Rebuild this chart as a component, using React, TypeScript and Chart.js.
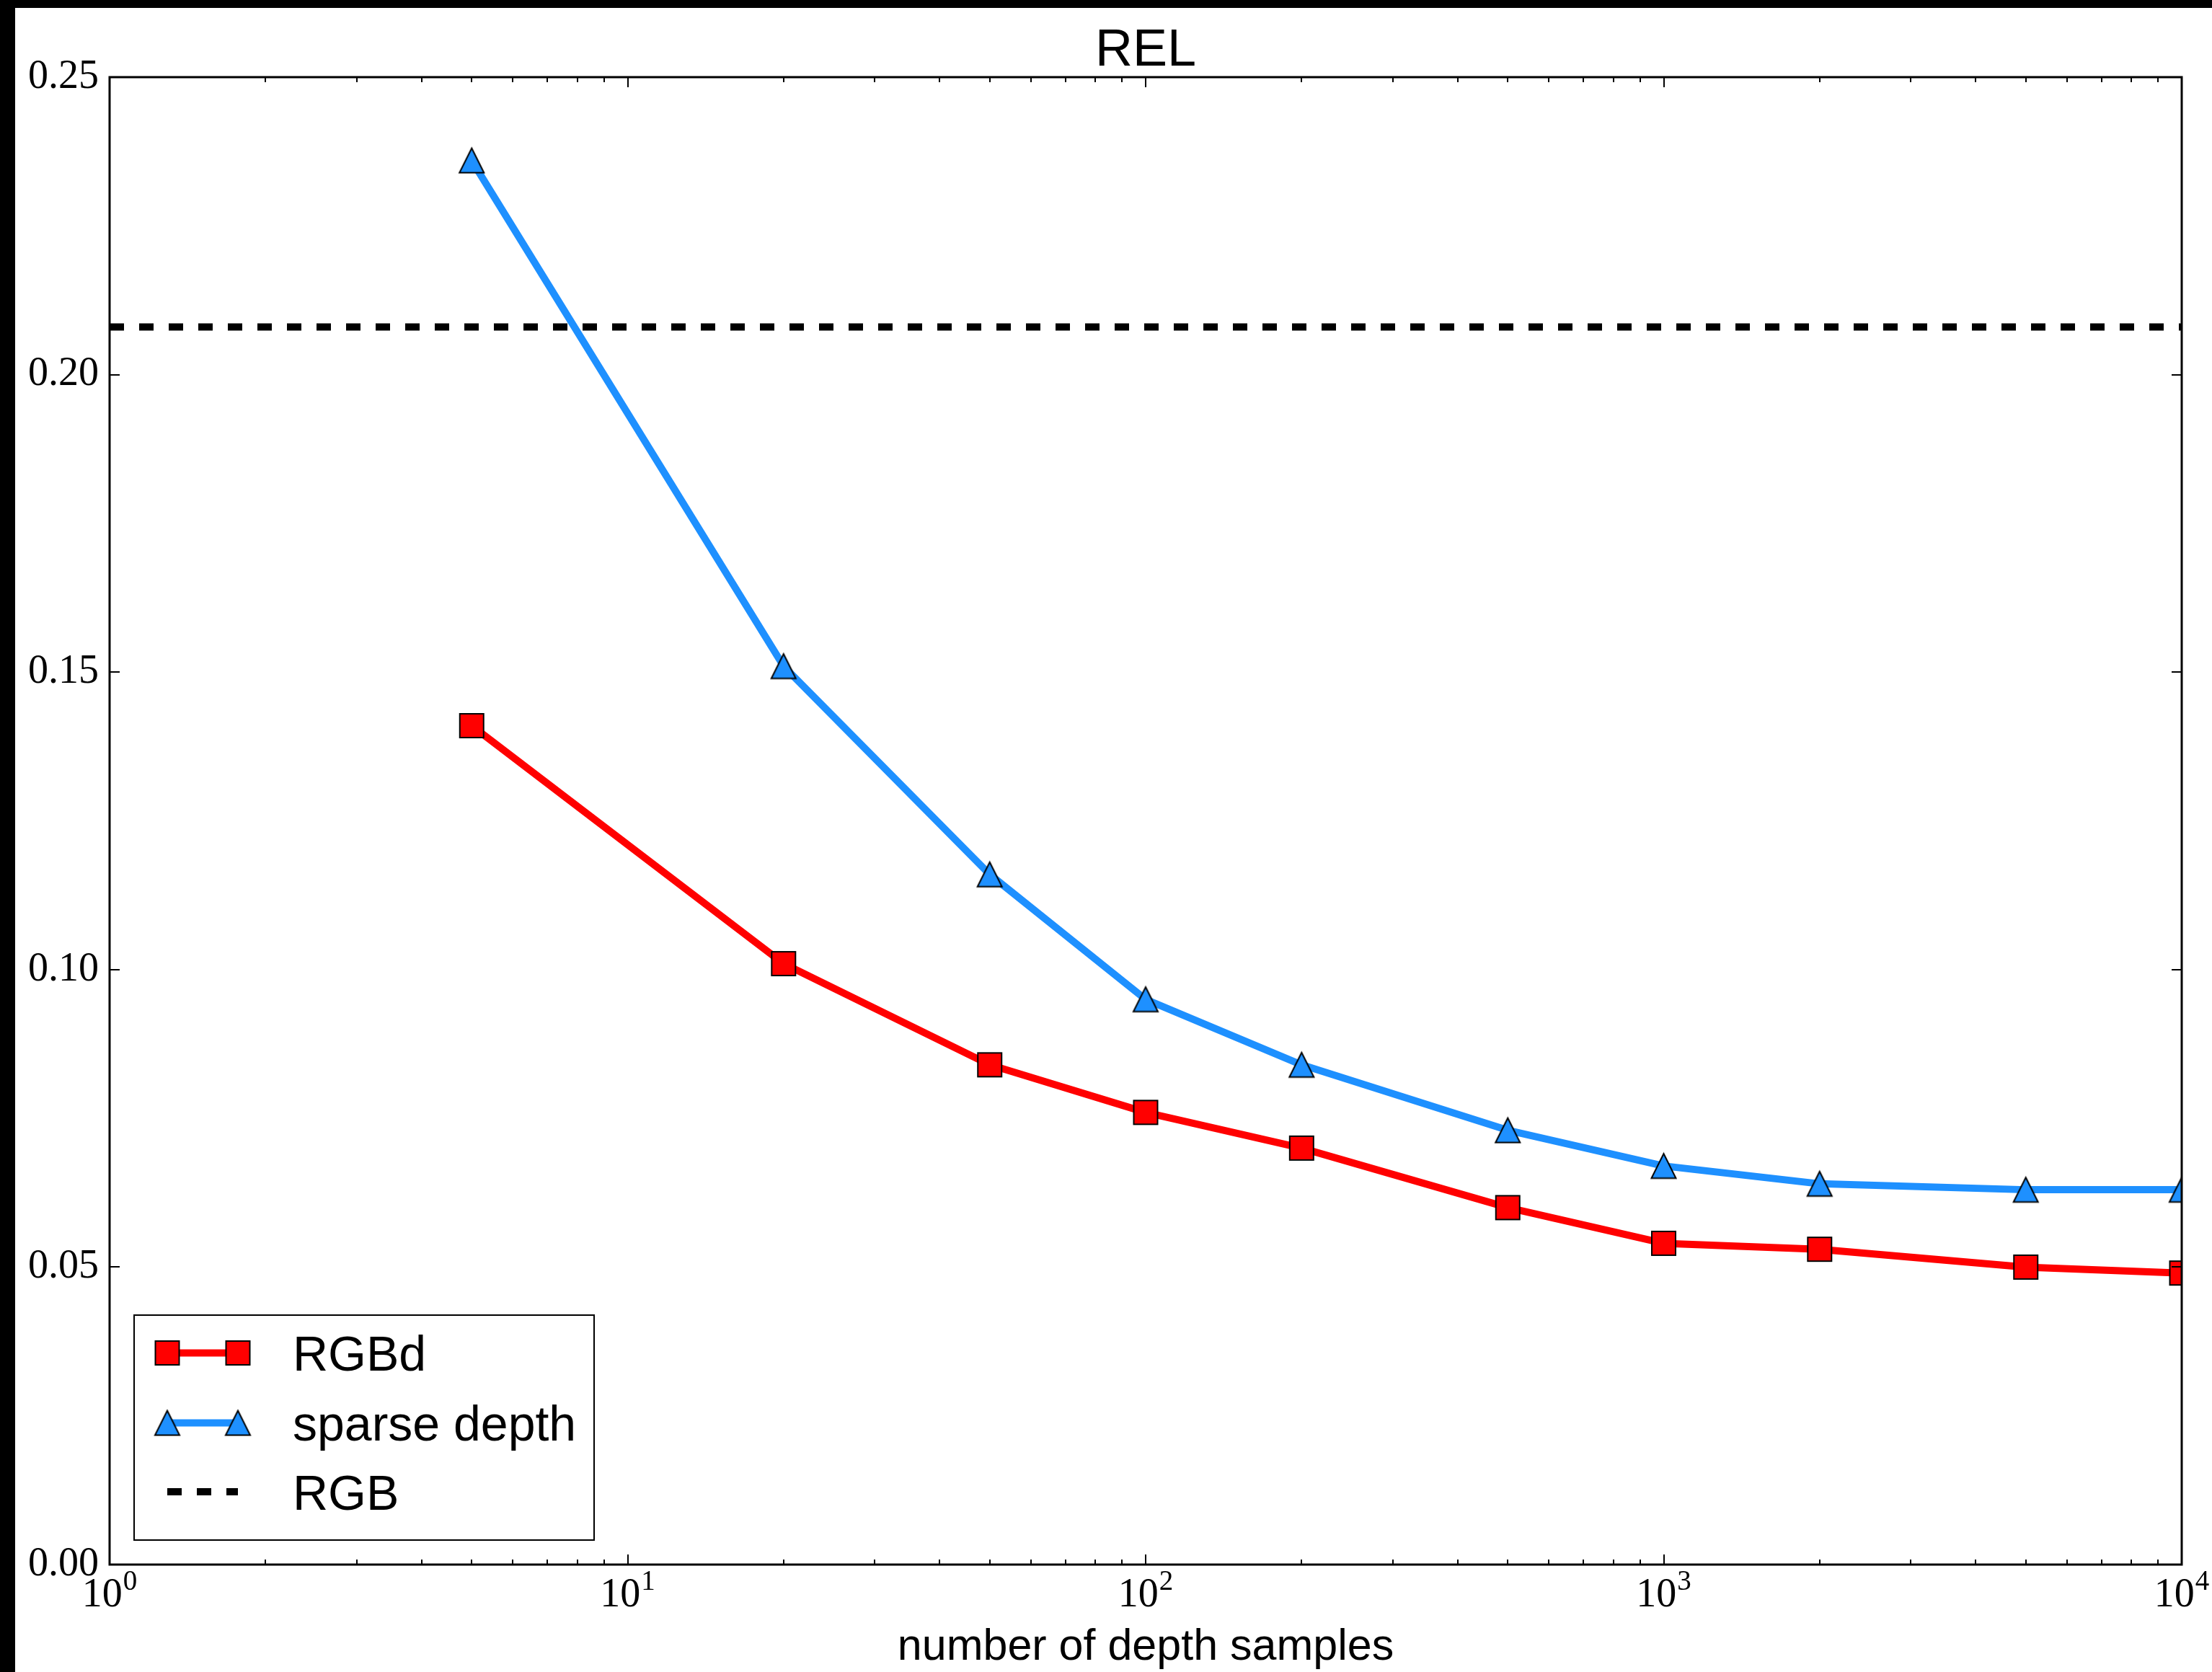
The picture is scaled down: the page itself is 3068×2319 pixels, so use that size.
import React, { useEffect, useRef } from 'react';
import { Chart, registerables } from 'chart.js';

Chart.register(...registerables);

// ---- data ----
const depthSamples = [5, 20, 50, 100, 200, 500, 1000, 2000, 5000, 10000];
const rgbdRel = [0.141, 0.101, 0.084, 0.076, 0.07, 0.06, 0.054, 0.053, 0.05, 0.049];
const sparseDepthRel = [0.236, 0.151, 0.116, 0.095, 0.084, 0.073, 0.067, 0.064, 0.063, 0.063];
const rgbRel = 0.208;
const rgbSpan = [1, 10000];
const seriesLabels = ['RGBd', 'sparse depth', 'RGB'];
const xMajorTicks = [1, 10, 100, 1000, 10000];
const yTickValues = [0, 0.05, 0.1, 0.15, 0.2, 0.25];
const chartTitle = 'REL';
const xAxisTitle = 'number of depth samples';

const RED = '#ff0000';
const BLUE = '#1e90ff';
const SANS = '"Liberation Sans", Arial, sans-serif';
const SERIF = '"Liberation Serif", "Times New Roman", serif';
const LINE_W = 10;

function makeSquare(color: string) {
  const c = document.createElement('canvas');
  c.width = 37;
  c.height = 37;
  const g = c.getContext('2d')!;
  g.fillStyle = color;
  g.fillRect(2, 2, 33, 33);
  g.strokeStyle = '#000';
  g.lineWidth = 2;
  g.strokeRect(2, 2, 33, 33);
  return c;
}

function makeTriangle(color: string) {
  const c = document.createElement('canvas');
  c.width = 41;
  c.height = 41;
  const g = c.getContext('2d')!;
  g.beginPath();
  g.moveTo(20.5, 3.5);
  g.lineTo(37.5, 37.5);
  g.lineTo(3.5, 37.5);
  g.closePath();
  g.fillStyle = color;
  g.fill();
  g.strokeStyle = '#000';
  g.lineWidth = 2;
  g.lineJoin = 'miter';
  g.stroke();
  return c;
}

const framePlugin = {
  id: 'framePlugin',
  afterDatasetsDraw(chart: any) {
    const { ctx, chartArea: a, scales } = chart;
    const xs = scales.x;
    const ys = scales.y;
    ctx.save();
    ctx.strokeStyle = '#000';
    ctx.lineWidth = 2;
    ctx.beginPath();
    for (const v of xMajorTicks) {
      const px = Math.round(xs.getPixelForValue(v));
      ctx.moveTo(px, a.bottom);
      ctx.lineTo(px, a.bottom - 14);
      ctx.moveTo(px, a.top);
      ctx.lineTo(px, a.top + 14);
    }
    for (let i = 0; i < xMajorTicks.length - 1; i++) {
      for (let m = 2; m <= 9; m++) {
        const px = Math.round(xs.getPixelForValue(xMajorTicks[i] * m));
        ctx.moveTo(px, a.bottom);
        ctx.lineTo(px, a.bottom - 7);
        ctx.moveTo(px, a.top);
        ctx.lineTo(px, a.top + 7);
      }
    }
    for (const v of yTickValues) {
      const py = Math.round(ys.getPixelForValue(v));
      ctx.moveTo(a.left, py);
      ctx.lineTo(a.left + 14, py);
      ctx.moveTo(a.right, py);
      ctx.lineTo(a.right - 14, py);
    }
    ctx.stroke();
    ctx.lineWidth = 3;
    ctx.strokeRect(a.left, a.top, a.right - a.left, a.bottom - a.top);
    ctx.restore();
  },
  afterDraw(chart: any) {
    const { ctx, chartArea: a, scales } = chart;
    const xs = scales.x;
    const cx = (a.left + a.right) / 2;
    ctx.save();
    ctx.fillStyle = '#000';
    ctx.font = `72px ${SANS}`;
    ctx.textAlign = 'center';
    ctx.textBaseline = 'alphabetic';
    ctx.fillText(chartTitle, cx, 80);
    ctx.textAlign = 'left';
    for (const v of xMajorTicks) {
      const px = xs.getPixelForValue(v);
      const exp = String(Math.round(Math.log10(v)));
      ctx.font = `56px ${SERIF}`;
      const w1 = ctx.measureText('10').width;
      ctx.font = `39px ${SERIF}`;
      const w2 = ctx.measureText(exp).width;
      const start = px - (w1 + w2 + 1) / 2;
      ctx.font = `56px ${SERIF}`;
      ctx.fillText('10', start, 2217);
      ctx.font = `39px ${SERIF}`;
      ctx.fillText(exp, start + w1 + 1, 2194);
    }
    ctx.font = `61px ${SANS}`;
    ctx.textAlign = 'center';
    ctx.fillText(xAxisTitle, cx, 2291);

    const box = { l: 165, t: 1813, r: 803, b: 2125 };
    ctx.fillStyle = '#fff';
    ctx.fillRect(box.l, box.t, box.r - box.l, box.b - box.t);
    ctx.strokeStyle = '#000';
    ctx.lineWidth = 2;
    ctx.strokeRect(box.l, box.t, box.r - box.l, box.b - box.t);
    const rows = [1865.5, 1962.5, 2058];
    const hx0 = 211;
    const hx1 = 309;
    chart.data.datasets.forEach((ds: any, i: number) => {
      const y = rows[i];
      ctx.save();
      ctx.strokeStyle = ds.borderColor;
      ctx.lineWidth = ds.borderWidth;
      ctx.lineCap = 'butt';
      ctx.setLineDash(ds.borderDash || []);
      ctx.beginPath();
      ctx.moveTo(hx0, y);
      ctx.lineTo(hx1, y);
      ctx.stroke();
      ctx.restore();
      if (ds.pointStyle && typeof ds.pointStyle !== 'string') {
        const img = ds.pointStyle;
        ctx.drawImage(img, hx0 - img.width / 2, y - img.height / 2);
        ctx.drawImage(img, hx1 - img.width / 2, y - img.height / 2);
      }
      ctx.fillStyle = '#000';
      ctx.font = `68px ${SANS}`;
      ctx.textAlign = 'left';
      ctx.textBaseline = 'alphabetic';
      ctx.fillText(ds.label, 385, y + 24.5);
    });
    ctx.restore();
  },
};

export default function App() {
  const ref = useRef<HTMLCanvasElement>(null);

  useEffect(() => {
    const square = makeSquare(RED);
    const triangle = makeTriangle(BLUE);
    const chart = new Chart(ref.current!, {
      type: 'line',
      data: {
        datasets: [
          {
            label: seriesLabels[0],
            data: depthSamples.map((x, i) => ({ x, y: rgbdRel[i] })),
            borderColor: RED,
            backgroundColor: RED,
            borderWidth: LINE_W,
            borderJoinStyle: 'round',
            pointStyle: square as any,
            pointRadius: 18,
            tension: 0,
            clip: 0,
            order: 3,
          },
          {
            label: seriesLabels[1],
            data: depthSamples.map((x, i) => ({ x, y: sparseDepthRel[i] })),
            borderColor: BLUE,
            backgroundColor: BLUE,
            borderWidth: LINE_W,
            borderJoinStyle: 'round',
            pointStyle: triangle as any,
            pointRadius: 18,
            tension: 0,
            clip: 0,
            order: 2,
          },
          {
            label: seriesLabels[2],
            data: rgbSpan.map((x) => ({ x, y: rgbRel })),
            borderColor: '#000',
            backgroundColor: '#000',
            borderWidth: LINE_W,
            borderDash: [20, 21],
            pointRadius: 0,
            tension: 0,
            clip: 0,
            order: 1,
          },
        ] as any,
      },
      options: {
        animation: false,
        responsive: false,
        devicePixelRatio: 1,
        events: [],
        layout: { padding: { top: 96, right: 42, bottom: 0, left: 0 } },
        plugins: {
          legend: { display: false },
          title: { display: false },
          tooltip: { enabled: false },
        },
        scales: {
          x: {
            type: 'logarithmic',
            min: 1,
            max: 10000,
            grid: { display: false, drawTicks: false },
            border: { display: false },
            ticks: { display: false },
            afterFit: (s: any) => {
              s.height = 149;
            },
          },
          y: {
            type: 'linear',
            min: 0,
            max: 0.25,
            grid: { display: false, drawTicks: false },
            border: { display: false },
            afterBuildTicks: (s: any) => {
              s.ticks = yTickValues.map((v) => ({ value: v }));
            },
            ticks: {
              autoSkip: false,
              padding: 15,
              color: '#000',
              font: { family: SERIF, size: 56 },
              callback: (v: any) => Number(v).toFixed(2),
            },
            afterFit: (s: any) => {
              s.width = 131;
            },
          },
        },
      } as any,
      plugins: [framePlugin],
    });
    return () => chart.destroy();
  }, []);

  return (
    <div
      style={{
        position: 'fixed',
        left: 0,
        top: 0,
        width: 3068,
        height: 2319,
        background: '#000',
        overflow: 'hidden',
      }}
    >
      <div
        style={{
          position: 'absolute',
          left: 21,
          top: 11,
          width: 3047,
          height: 2308,
          background: '#fff',
        }}
      >
        <canvas ref={ref} width={3047} height={2308} style={{ display: 'block' }} />
      </div>
    </div>
  );
}
